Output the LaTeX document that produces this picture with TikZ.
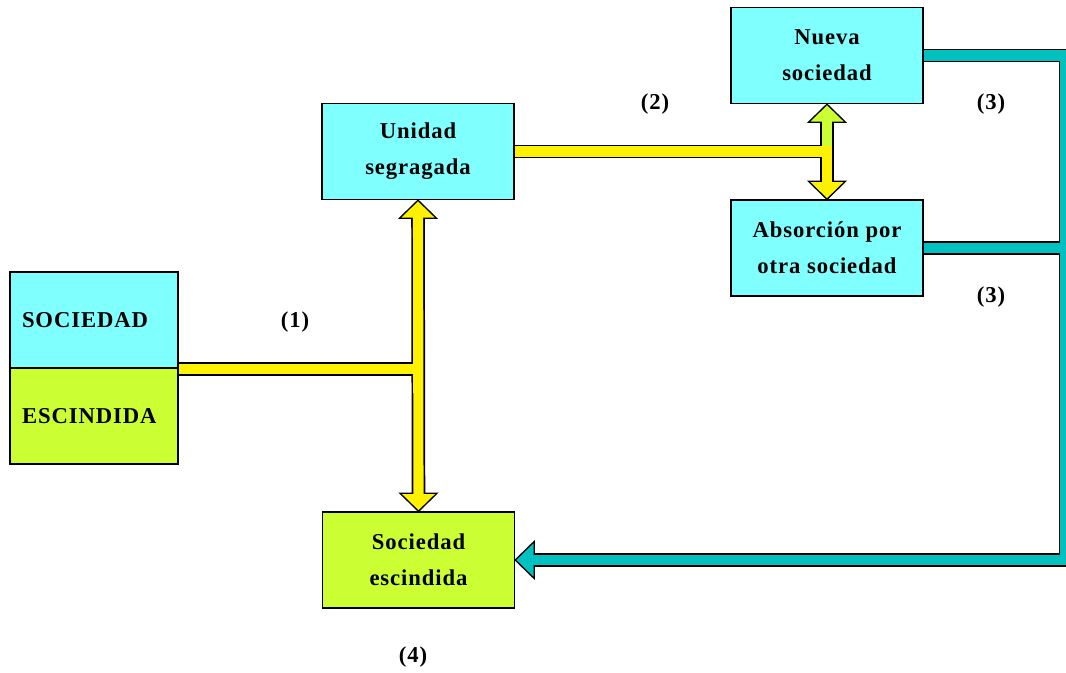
\documentclass[tikz,border=0pt]{standalone}
\usepackage{fontspec}
\setmainfont{Liberation Serif}[LetterSpace=4]
\usepackage{tikz}
\usetikzlibrary{calc}

\definecolor{boxcyan}{HTML}{80FFFF}
\definecolor{boxgreen}{HTML}{CCFF33}
\definecolor{bandteal}{HTML}{00C0C0}
\newcommand{\boxfont}{\fontsize{17pt}{27pt}\selectfont\bfseries}

\tikzset{
  box/.style={draw, line width=1.1pt, inner sep=0pt, align=center,
    minimum width=144pt, minimum height=72pt, font=\boxfont},
  lab/.style={font=\boxfont, inner sep=0pt},
  bandout/.style={draw=black, line width=10.2pt, line join=miter},
  bandin/.style={line width=7.6pt, line join=miter},
  head/.style={draw=black, line width=1pt, line join=miter},
}

\begin{document}
\begin{tikzpicture}[x=0.75pt,y=-0.75pt]
        \useasboundingbox (0,0) rectangle (1066,672);

        % boxes
        \node[box,fill=boxcyan] (unid) at (418,151.5) {Unidad\\segragada};
        \node[box,fill=boxcyan] (nueva) at (827,55.5) {Nueva\\sociedad};
        \node[box,fill=boxcyan] (absor) at (827,248) {Absorción por\\otra sociedad};
        \node[box,fill=boxgreen] (sesc) at (418.5,560) {Sociedad\\escindida};
        \node[box,fill=boxcyan,minimum width=126pt,text width=108pt,inner xsep=9pt,align=left] (soc) at (94,320) {SOCIEDAD};
        \node[box,fill=boxgreen,minimum width=126pt,text width=108pt,inner xsep=9pt,align=left] (esc) at (94,416) {ESCINDIDA};

        % labels
        \node[lab] (n1) at (295,322) {(1)};
        \node[lab] (n2) at (655,104) {(2)};
        \node[lab] (n3a) at (991,104) {(3)};
        \node[lab] (n3b) at (991,297) {(3)};
        \node[lab] (n4) at (413,657) {(4)};

        \coordinate (rail) at (1065.5,0);

        % outlines of the bands
        \draw[bandout,shorten >=12pt] (nueva.east) -| (rail |- sesc.east) -- (sesc.east);
        \draw[bandout] (absor.east) -- (absor.east -| rail);
        \draw[bandout] (soc.south east) -- (soc.south east -| unid.south);
        \draw[bandout,shorten <=12pt,shorten >=12pt] (unid.south) -- (sesc.north);
        \draw[bandout] (unid.east) -- (unid.east -| nueva.south);
        \draw[bandout,shorten <=12pt,shorten >=12pt] (nueva.south) -- (absor.north);

        % heads
        \draw[head,fill=yellow] (unid.south) -- ++(-18.5,18) -- ++(37,0) -- cycle;
        \draw[head,fill=yellow] (sesc.north) -- ++(-18.5,-18) -- ++(37,0) -- cycle;
        \draw[head,fill=boxgreen] (nueva.south) -- ++(-18.5,18) -- ++(37,0) -- cycle;
        \draw[head,fill=yellow] (absor.north) -- ++(-18.5,-18) -- ++(37,0) -- cycle;
        \draw[head,fill=bandteal] (sesc.east) -- ++(19,-18.5) -- ++(0,37) -- cycle;

        % fill of the bands
        \draw[bandin,draw=bandteal,shorten >=7.5pt] (nueva.east) -| (rail |- sesc.east) -- (sesc.east);
        \draw[bandin,draw=bandteal] (absor.east) -- (absor.east -| rail);
        \draw[bandin,draw=yellow] (soc.south east) -- (soc.south east -| unid.south);
        \draw[bandin,draw=yellow,shorten <=7.5pt,shorten >=7.5pt] (unid.south) -- (sesc.north);
        \draw[bandin,draw=boxgreen,shorten <=7.5pt] (nueva.south) -- (unid.east -| nueva.south);
        \draw[bandin,draw=yellow,shorten >=-4pt] (unid.east) -- (unid.east -| nueva.south);
        \draw[bandin,draw=yellow,shorten <=-4pt,shorten >=7.5pt] (unid.east -| nueva.south) -- (absor.north);
\end{tikzpicture}
\end{document}
